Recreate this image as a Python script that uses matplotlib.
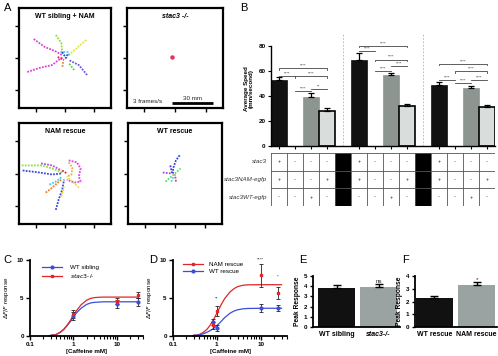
import matplotlib
matplotlib.use('Agg')
import matplotlib.pyplot as plt
from matplotlib.ticker import LogLocator, NullFormatter, FixedLocator, FixedFormatter
from matplotlib.patches import Rectangle

plt.rcParams['font.family'] = ['Liberation Sans', 'DejaVu Sans']

# ---------------- Panel A data (box-local units 0-100) ----------------
A_titles = ['WT sibling + NAM', 'stac3 -/-', 'NAM rescue', 'WT rescue']
A_tracks_wt_nam = [
    ('#e040d8', [16, 28, 39, 47], [69, 61, 57, 53]),
    ('#e040d8', [9, 22, 36, 43, 48], [36, 40, 43, 48, 51]),
    ('#90dd40', [40, 46, 47], [73, 65, 55]),
    ('#e8e040', [73, 63, 54], [68, 60, 53]),
    ('#6a5ae0', [74, 65, 54], [33, 43, 48]),
    ('#60d050', [60, 54], [38, 45]),
    ('#f08a30', [48, 47], [46, 40]),
    ('#40d8e8', [45, 53, 55], [56, 56, 52]),
    ('#3a40e0', [47, 51, 53], [56, 50, 54]),
    ('#e82050', [42, 49], [51, 48]),
]
A_tracks_stac3 = [('#e83060', [47], [51])]
A_tracks_nam = [
    ('#90e040', [3, 25, 36, 47], [58, 58, 55, 51]),
    ('#3a48e0', [4, 22, 36, 46], [53, 51, 49, 50]),
    ('#b050e0', [24, 36, 46], [60, 58, 53]),
    ('#d848e0', [54, 63, 67, 65, 67, 60, 52], [63, 61, 55, 47, 42, 41, 44]),
    ('#f0b030', [54, 58, 57, 52], [61, 56, 49, 47]),
    ('#e8e040', [65, 58, 52], [36, 42, 47]),
    ('#40d0e8', [33, 40, 47], [39, 42, 47]),
    ('#f07828', [29, 36, 46], [31, 36, 44]),
    ('#3a48e0', [40, 43, 47, 49], [14, 24, 34, 44]),
    ('#e8d830', [46, 49], [27, 37]),
    ('#e82040', [47, 52], [53, 50]),
]
A_tracks_wt = [
    ('#3a40e0', [55, 51, 48, 48], [68, 63, 55, 50]),
    ('#3a40e0', [45, 47], [58, 50]),
    ('#b048e0', [37, 46], [51, 50]),
    ('#60e060', [40, 56], [42, 55]),
    ('#40d8e8', [46, 49], [42, 48]),
    ('#e83090', [51, 50], [42, 49]),
]

# ---------------- Panel B data ----------------
B_bar_cols = [0, 2, 3, 5, 7, 8, 10, 12, 13]
B_values = [53, 39.5, 28, 69, 56.5, 32, 48.5, 46.5, 31.5]
B_errors = [2, 3, 2.5, 5, 2, 1.5, 2.5, 1, 1.5]
B_kinds = ['dark', 'mid', 'light'] * 3
B_row_labels = ['stac3', 'stac3NAM-egfp', 'stac3WT-egfp']
B_table = [
    ['+', '-', '-', '-', '', '+', '-', '-', '-', '', '+', '-', '-', '-'],
    ['+', '-', '-', '+', '', '+', '-', '-', '+', '', '+', '-', '-', '+'],
    ['-', '-', '+', '-', '', '-', '-', '+', '-', '', '-', '-', '+', '-'],
]
B_sig = [(0, 3, 62, '****'), (1, 3, 55.5, '****'), (0, 1, 56, '****'),
         (1, 2, 44, '****'), (2, 3, 45.6, '**'),
         (5, 8, 80, '****'), (5, 6, 76, '****'), (6, 8, 69, '****'),
         (6, 7, 60, '****'), (7, 8, 64, '****'),
         (10, 13, 65.6, '****'), (11, 13, 59.5, '****'), (10, 11, 53, '****'),
         (11, 12, 50, '****'), (12, 13, 53, '****')]

# ---------------- Panel C data ----------------
C_conc = [0.3, 1, 10, 30]
C_wt = [0.05, 2.6, 4.2, 4.5]
C_wt_err = [0.1, 0.5, 0.5, 0.5]
C_mut = [0.05, 2.9, 4.6, 5.4]
C_mut_err = [0.1, 0.5, 0.35, 0.4]
C_fit_x = [0.3, 0.4, 0.5, 0.6, 0.7, 0.85, 1, 1.2, 1.5, 2, 2.5, 3, 4, 5, 10, 30]
C_fit_wt = [0.05, 0.2, 0.5, 0.85, 1.3, 1.9, 2.5, 3.1, 3.65, 4.15, 4.35, 4.42, 4.47, 4.5, 4.5, 4.5]
C_fit_mut = [0.05, 0.2, 0.5, 0.9, 1.35, 2.05, 2.7, 3.4, 4.1, 4.7, 4.95, 5.05, 5.1, 5.12, 5.12, 5.12]

# ---------------- Panel D data ----------------
D_conc = [0.3, 0.8, 1, 10, 25]
D_nam = [0.05, 1.4, 3.3, 8.0, 5.7]
D_nam_err = [0.1, 0.5, 0.7, 1.5, 0.8]
D_wt = [0.05, 1.8, 1.1, 3.65, 3.65]
D_wt_err = [0.1, 0.4, 0.4, 0.5, 0.4]
D_sig = [(1, 4.6, '**'), (10, 9.8, '****'), (25, 7.5, '*')]
D_fit_x = [0.3, 0.4, 0.5, 0.6, 0.7, 0.85, 1, 1.2, 1.5, 2, 2.5, 3, 4, 5, 10, 30]
D_fit_nam = [0.05, 0.2, 0.5, 0.9, 1.4, 2.2, 3.0, 3.9, 4.9, 5.8, 6.25, 6.5, 6.68, 6.73, 6.75, 6.75]
D_fit_wt = [0.05, 0.15, 0.3, 0.5, 0.7, 1.0, 1.35, 1.8, 2.4, 3.0, 3.3, 3.45, 3.58, 3.62, 3.65, 3.65]

# ---------------- Panels E/F data ----------------
E_labels = ['WT sibling', 'stac3-/-']
E_values = [3.8, 3.9]
E_errors = [0.3, 0.3]
F_labels = ['WT rescue', 'NAM rescue']
F_values = [2.25, 3.3]
F_errors = [0.15, 0.2]

W, H = 498, 356
fig = plt.figure(figsize=(W / 100, H / 100), dpi=100)


def add_ax(l, t, r, b):
    return fig.add_axes([l / W, 1 - b / H, (r - l) / W, (b - t) / H])


def ftext(x, y, s, **kw):
    fig.text(x / W, 1 - y / H, s, **kw)


BLUE = '#3a4fd8'
RED = '#e0262a'
BLACK = '#111111'
MID = '#8d9591'
LIGHT = '#d9dddc'
TICKFS = 4.5

# ---------------- Panel A ----------------
boxes = [(19, 8, 111, 108), (127, 8, 223, 108), (19, 123, 111, 224), (128, 123, 222, 224)]
tracksets = [A_tracks_wt_nam, A_tracks_stac3, A_tracks_nam, A_tracks_wt]
for i, (box, tracks) in enumerate(zip(boxes, tracksets)):
    ax = add_ax(*box)
    ax.set_xlim(0, 100)
    ax.set_ylim(0, 100)
    for s in ax.spines.values():
        s.set_linewidth(1.6)
    ax.set_xticks([18, 50, 82])
    ax.set_yticks([18, 50, 82])
    ax.set_xticklabels([])
    ax.set_yticklabels([])
    ax.tick_params(length=3, width=1, direction='out')
    for color, xs, ys in tracks:
        if len(xs) == 1:
            ax.plot(xs, ys, 'o', color=color, ms=2.2)
        else:
            ax.plot(xs, ys, color=color, lw=1.3, ls=(0, (1, 0.7)))
    ax.text(50, 92, A_titles[i], ha='center', va='center', fontsize=5,
            weight='bold', style='italic' if i == 1 else 'normal')
    if i == 1:
        ax.text(6, 7, '3 frames/s', fontsize=4.5, va='center', ha='left', color='#222')
        ax.plot([47, 90], [5, 5], color='black', lw=2, solid_capstyle='butt')
        ax.text(68.5, 9.5, '30 mm', fontsize=4.5, ha='center', va='center', color='#222')

ftext(4, 8, 'A', fontsize=8, va='center', ha='left')

# ---------------- Panel B ----------------
axB = add_ax(271, 32, 495, 146)
axB.set_xlim(-0.5, 13.5)
axB.set_ylim(0, 91)
colmap = {'dark': BLACK, 'mid': MID, 'light': LIGHT}
for c, v, e, k in zip(B_bar_cols, B_values, B_errors, B_kinds):
    axB.bar(c, v, width=0.95, color=colmap[k],
            edgecolor='black' if k == 'light' else colmap[k],
            linewidth=1.2 if k == 'light' else 0.5)
    axB.errorbar(c, v, yerr=[[0], [e]], fmt='none', ecolor='black',
                 elinewidth=0.9, capsize=2.2, capthick=0.9)
for x1, x2, y, lab in B_sig:
    drop = 1.3 if (x2 - x1) > 1 else 0
    axB.plot([x1, x1, x2, x2], [y - drop, y, y, y - drop], color='#444', lw=0.6)
    axB.text((x1 + x2) / 2, y + 0.3, lab, ha='center', va='bottom', fontsize=3, color='#333')
for xs in [4, 9]:
    axB.plot([xs, xs], [0, 90], color='#b0b0b0', lw=0.6, ls=(0, (2, 2)))
axB.spines['top'].set_visible(False)
axB.spines['right'].set_visible(False)
axB.spines['left'].set_bounds(0, 80)
axB.spines['left'].set_linewidth(1.0)
axB.spines['bottom'].set_linewidth(1.0)
axB.set_yticks([0, 20, 40, 60, 80])
axB.set_yticklabels(['0', '20', '40', '60', '80'], fontsize=TICKFS, weight='bold')
tick_cols = [c for c in range(14) if B_table[0][c] != '']
axB.set_xticks(tick_cols)
axB.set_xticklabels([])
axB.tick_params(axis='both', length=2.5, width=0.8, pad=1.5)
axB.set_ylabel('Average Speed\n(mm/second)', fontsize=4.5, weight='bold', labelpad=3,
               linespacing=1.0)
ftext(240, 8, 'B', fontsize=8, va='center', ha='left')

# Table
axT = add_ax(271, 153, 495, 206)
axT.set_xlim(-0.5, 13.5)
axT.set_ylim(0, 3)
axT.axis('off')
for c in range(14):
    if B_table[0][c] == '':
        axT.add_patch(Rectangle((c - 0.5, 0), 1, 3, color='black', lw=0))
for c in range(15):
    axT.plot([c - 0.5, c - 0.5], [0, 3], color='#555', lw=0.6)
for r in range(4):
    axT.plot([-0.5, 13.5], [r, r], color='#555', lw=0.6)
for r, row in enumerate(B_table):
    yc = 2.5 - r
    for c, val in enumerate(row):
        if val:
            axT.text(c, yc, val, ha='center', va='center', fontsize=4, color='#222')
    axT.text(-0.75, yc, B_row_labels[r], ha='right', va='center', fontsize=4.5,
             style='italic', color='#333')


# ---------------- Panels C & D ----------------
def style_dose_ax(ax):
    ax.set_xscale('log')
    ax.set_xlim(0.1, 40)
    ax.set_ylim(0, 10)
    ax.spines['top'].set_visible(False)
    ax.spines['right'].set_visible(False)
    for s in ['left', 'bottom']:
        ax.spines[s].set_linewidth(1.3)
    ax.xaxis.set_major_locator(FixedLocator([0.1, 1, 10]))
    ax.xaxis.set_major_formatter(FixedFormatter(['0.1', '1', '10']))
    ax.xaxis.set_minor_locator(LogLocator(base=10, subs=range(2, 10)))
    ax.xaxis.set_minor_formatter(NullFormatter())
    ax.set_yticks([0, 5, 10])
    ax.set_yticklabels(['0', '5', '10'], fontsize=TICKFS, weight='bold')
    for lab in ax.get_xticklabels():
        lab.set_fontsize(TICKFS)
        lab.set_weight('bold')
    ax.tick_params(axis='both', which='major', length=3, width=1, pad=1.5)
    ax.tick_params(axis='x', which='minor', length=2, width=0.8)
    ax.set_xlabel('[Caffeine mM]', fontsize=4.5, weight='bold', labelpad=1.5)
    ax.set_ylabel(r'$\Delta F/F$ response', fontsize=4.5, labelpad=4)


axC = add_ax(30, 260, 143, 336)
style_dose_ax(axC)
axC.plot(C_fit_x, C_fit_wt, color=BLUE, lw=0.9)
axC.plot(C_fit_x, C_fit_mut, color=RED, lw=0.9)
axC.errorbar(C_conc, C_wt, yerr=C_wt_err, fmt='o', color=BLUE, ms=2, ecolor='#222',
             elinewidth=0.6, capsize=1.5, capthick=0.6)
axC.errorbar(C_conc, C_mut, yerr=C_mut_err, fmt='s', color=RED, ms=2, ecolor='#222',
             elinewidth=0.6, capsize=1.5, capthick=0.6)
hC1, = axC.plot([], [], color=BLUE, marker='o', ms=2, lw=0.9)
hC2, = axC.plot([], [], color=RED, marker='s', ms=2, lw=0.9)
legC = axC.legend([hC1, hC2], ['WT sibling', r'$\it{stac3}$-/-'], loc='upper left',
                  bbox_to_anchor=(0.08, 0.98), frameon=False, fontsize=4.5,
                  handlelength=3.2, handletextpad=1.2, labelspacing=0.3, borderpad=0)
ftext(3, 260, 'C', fontsize=8, va='center', ha='left')

axD = add_ax(173, 260, 287, 336)
style_dose_ax(axD)
axD.plot(D_fit_x, D_fit_nam, color=RED, lw=0.9)
axD.plot(D_fit_x, D_fit_wt, color=BLUE, lw=0.9)
axD.errorbar(D_conc, D_wt, yerr=D_wt_err, fmt='o', color=BLUE, ms=2, ecolor='#222',
             elinewidth=0.6, capsize=1.5, capthick=0.6)
axD.errorbar(D_conc, D_nam, yerr=D_nam_err, fmt='s', color=RED, ms=2, ecolor='#222',
             elinewidth=0.6, capsize=1.5, capthick=0.6)
for x, y, lab in D_sig:
    axD.text(x, y, lab, ha='center', va='bottom', fontsize=3.2, color='#222')
hD1, = axD.plot([], [], color=RED, marker='s', ms=2, lw=0.9)
hD2, = axD.plot([], [], color=BLUE, marker='o', ms=2, lw=0.9)
axD.legend([hD1, hD2], ['NAM rescue', 'WT rescue'], loc='upper left',
           bbox_to_anchor=(0.06, 1.02), frameon=False, fontsize=4.5,
           handlelength=3.2, handletextpad=1.0, labelspacing=0.3, borderpad=0)
ftext(149, 260, 'D', fontsize=8, va='center', ha='left')


# ---------------- Panels E & F ----------------
def peak_ax(ax, labels, values, errors, ymax, sig, italic_second):
    ax.bar([0, 1], values, width=0.88, color=[BLACK, '#9aa3a2'], edgecolor='none')
    ax.errorbar([0, 1], values, yerr=[[0, 0], errors], fmt='none', ecolor='black',
                elinewidth=1.0, capsize=3, capthick=1.0)
    ax.set_ylim(0, ymax)
    ax.set_yticks(list(range(0, ymax + 1)))
    ax.set_yticklabels([str(v) for v in range(0, ymax + 1)], fontsize=TICKFS, weight='bold')
    ax.set_xticks([0, 1])
    ax.set_xticklabels(labels, fontsize=5, weight='bold')
    if italic_second:
        ax.get_xticklabels()[1].set_style('italic')
    ax.spines['top'].set_visible(False)
    ax.spines['right'].set_visible(False)
    for s in ['left', 'bottom']:
        ax.spines[s].set_linewidth(1.3)
    ax.tick_params(axis='y', length=2.5, width=1, pad=1.5)
    ax.tick_params(axis='x', length=0, pad=3)
    ax.set_ylabel('Peak Response', fontsize=4.8, weight='bold', labelpad=2)
    ax.text(1, sig[0], sig[1], ha='center', va='bottom', fontsize=4.5, color='#222')


axE = add_ax(313, 276, 400, 327)
axE.set_xlim(-0.56, 1.51)
peak_ax(axE, E_labels, E_values, E_errors, 5, (4.2, 'ns'), True)
ftext(299, 260, 'E', fontsize=8, va='center', ha='left')

axF = add_ax(415, 276, 497, 327)
axF.set_xlim(-0.46, 1.48)
peak_ax(axF, F_labels, F_values, F_errors, 4, (3.5, '*'), False)
ftext(402, 260, 'F', fontsize=8, va='center', ha='left')

fig.savefig('out.png', dpi=100)
